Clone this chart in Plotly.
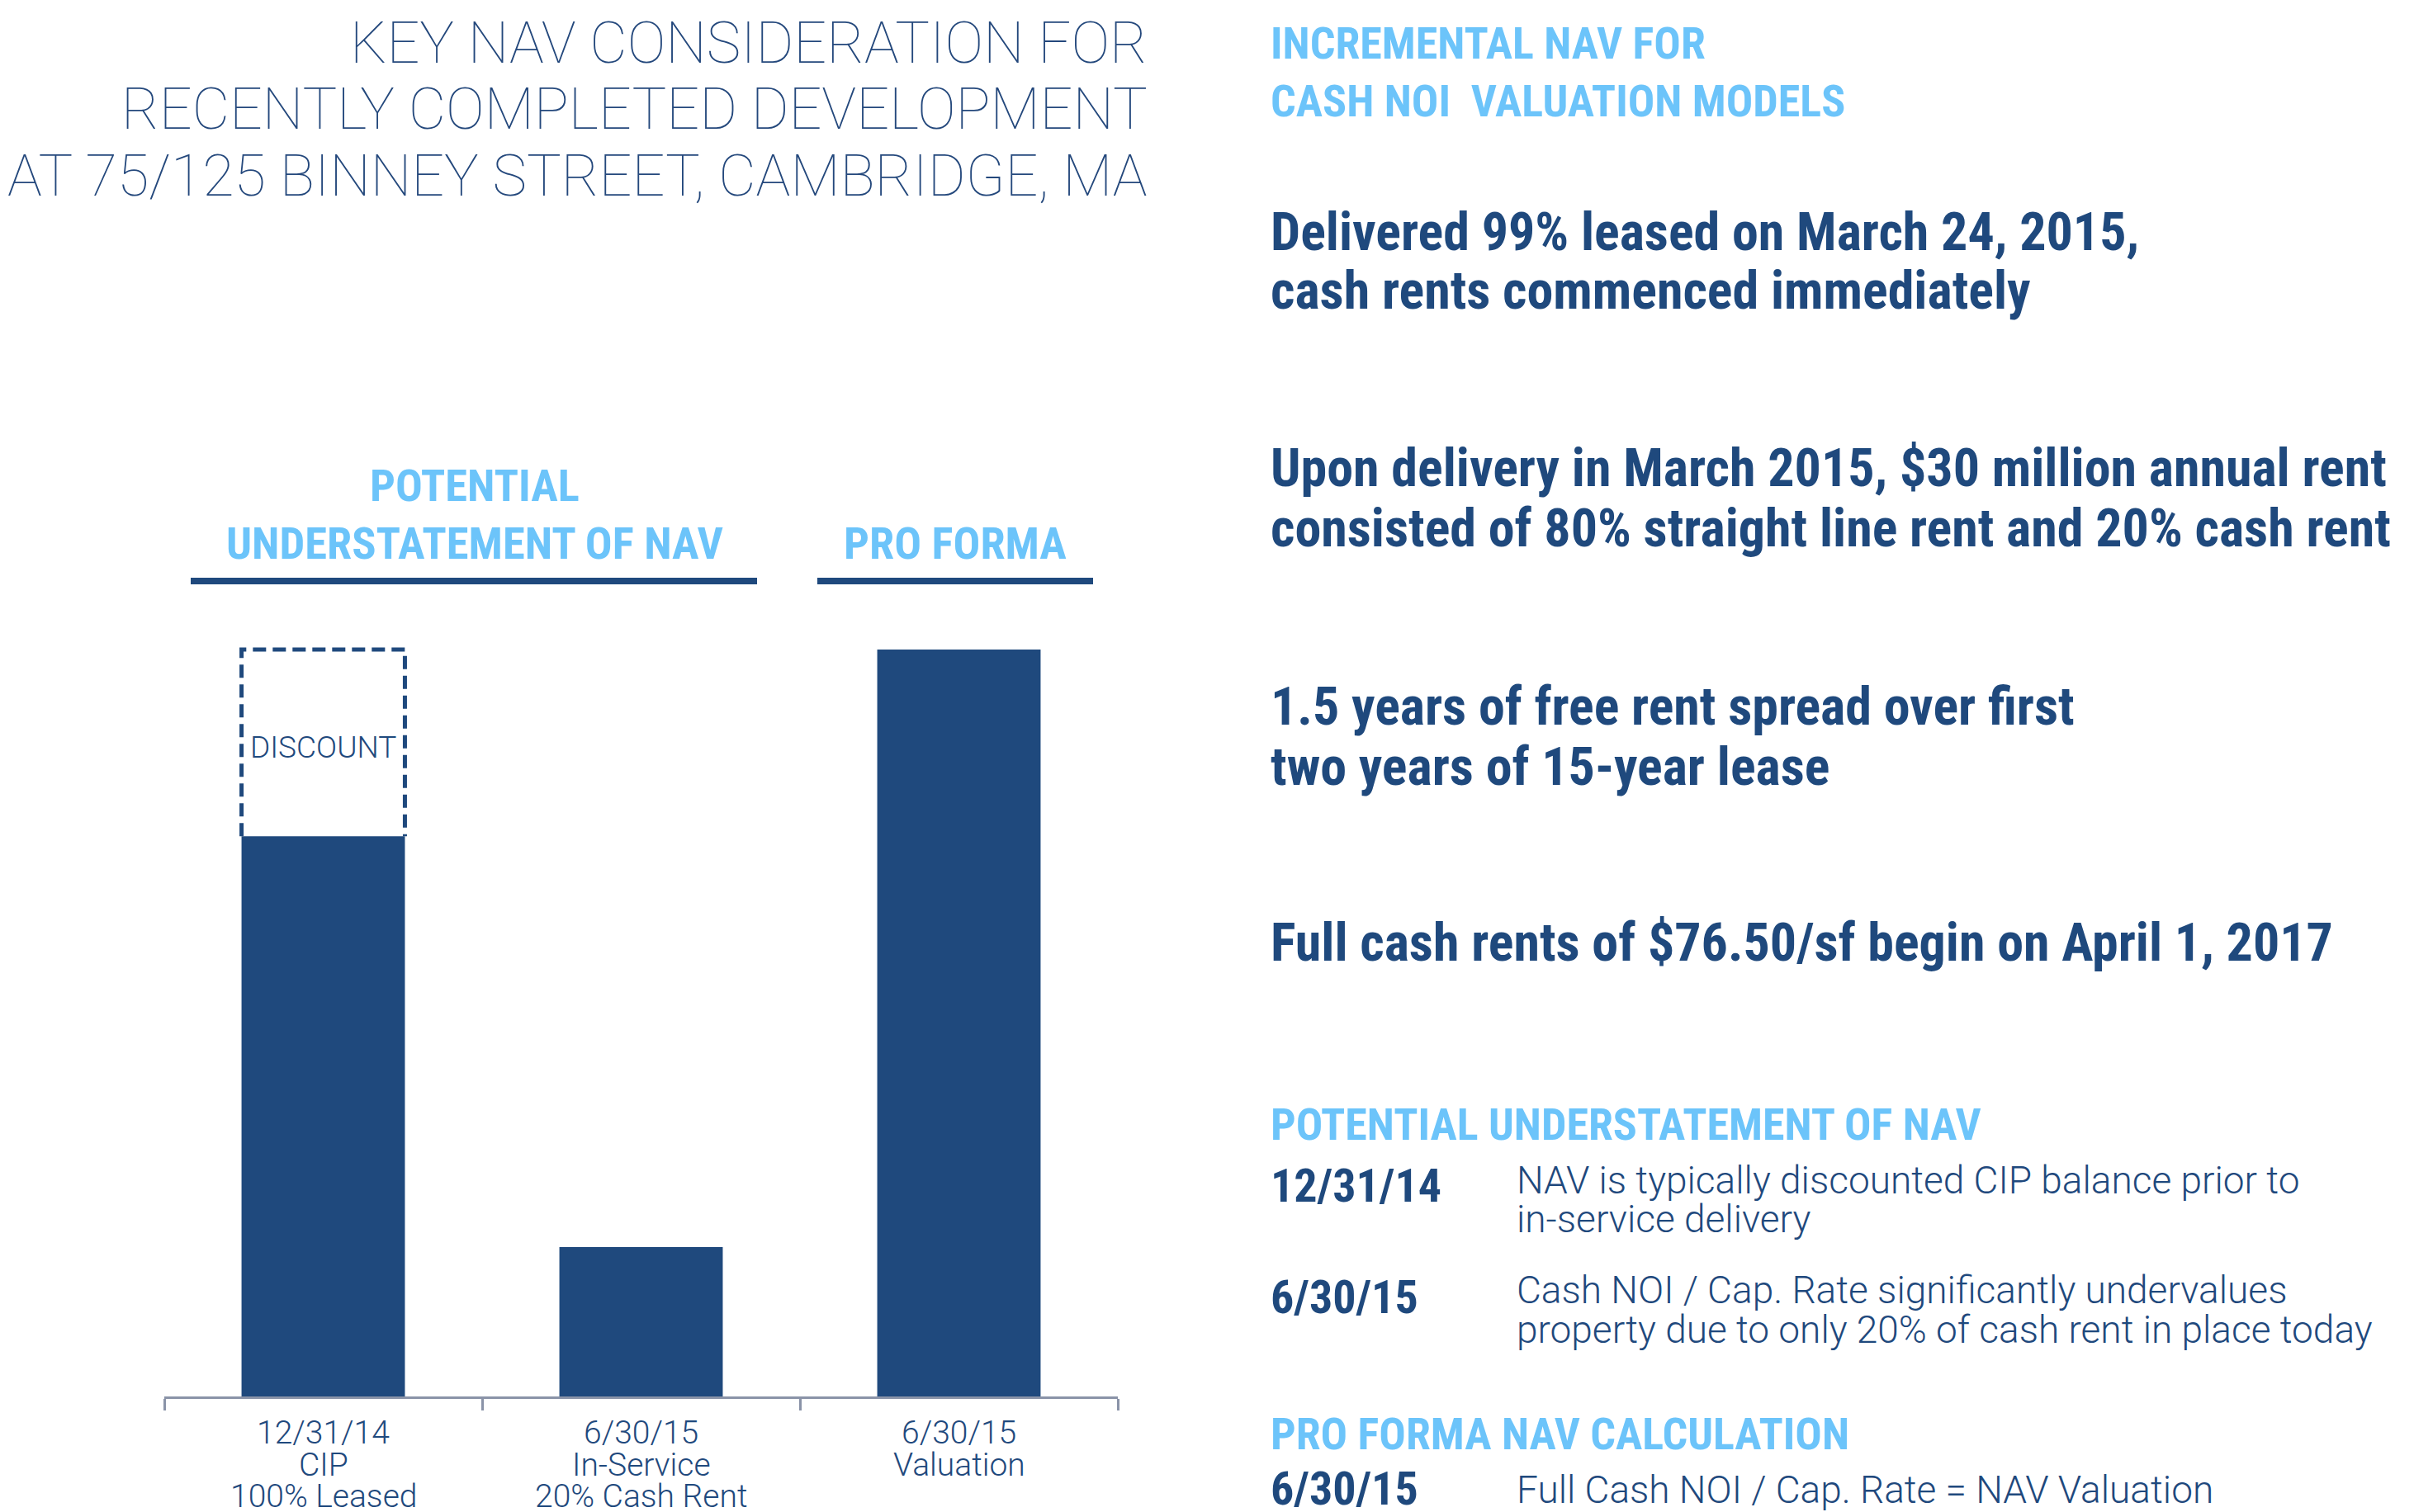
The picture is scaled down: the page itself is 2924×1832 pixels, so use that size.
import plotly.graph_objects as go

W, H = 2924, 1832
OFF = 8  # page body margin

NAVY = "#1F497D"
SKY = "#6CC4FA"
GREY = "#8A93A8"

BOLD = ("Noto Sans Condensed, Roboto Condensed, Open Sans Condensed, "
        "Liberation Sans Narrow, Arial Narrow, Roboto, sans-serif")
LIGHT = "Roboto, Lato, sans-serif"

# chart data (NAV index, pro forma = 100)
bar_keys = ["cip", "in_service", "valuation"]
bar_labels = [["12/31/14", "CIP", "100% Leased"],
              ["6/30/15", "In-Service", "20% Cash Rent"],
              ["6/30/15", "Valuation"]]
nav_values = [75, 20, 100]
discount_values = [25, 0, 0]
bar_width = 0.514

title_lines = ["KEY NAV CONSIDERATION FOR",
               "RECENTLY COMPLETED DEVELOPMENT",
               "AT 75/125 BINNEY STREET, CAMBRIDGE, MA"]
heading_lines = ["INCREMENTAL NAV FOR", "CASH NOI  VALUATION MODELS"]
points = [
    ["Delivered 99% leased on March 24, 2015,", "cash rents commenced immediately"],
    ["Upon delivery in March 2015, $30 million annual rent",
     "consisted of 80% straight line rent and 20% cash rent"],
    ["1.5 years of free rent spread over first", "two years of 15-year lease"],
    ["Full cash rents of $76.50/sf begin on April 1, 2017"],
]
notes_under = [
    ("12/31/14", ["NAV is typically discounted CIP balance prior to", "in-service delivery"]),
    ("6/30/15", ["Cash NOI / Cap. Rate significantly undervalues",
                 "property due to only 20% of cash rent in place today"]),
]
notes_pro = [("6/30/15", ["Full Cash NOI / Cap. Rate = NAV Valuation"])]


def px(x):
    return (x - OFF) / W


def py(y):
    return 1 - (y - OFF) / H


fig = go.Figure()

fig.add_trace(go.Bar(
    x=list(range(len(bar_keys))),
    y=nav_values,
    width=bar_width,
    marker=dict(color=NAVY, line=dict(width=0)),
    hoverinfo="skip",
    showlegend=False,
))

# dashed outline for the discount part of CIP bar
for i, (v, d) in enumerate(zip(nav_values, discount_values)):
    if d <= 0:
        continue
    fig.add_trace(go.Scatter(
        x=[i - bar_width / 2, i - bar_width / 2, i + bar_width / 2, i + bar_width / 2],
        y=[v, v + d, v + d, v],
        mode="lines",
        line=dict(color=NAVY, width=5, dash="16px,8px"),
        hoverinfo="skip",
        showlegend=False,
    ))
    fig.add_annotation(x=i, y=v + d / 2, xref="x", yref="y", text="DISCOUNT",
                       showarrow=False, yshift=-5,
                       font=dict(family=LIGHT, size=37, color=NAVY, weight=300))

# category labels under the axis, one line each
label_y = [1736, 1775, 1813]
for i, lines in enumerate(bar_labels):
    for s, y in zip(lines, label_y):
        fig.add_annotation(x=i, y=py(y), xref="x", yref="paper", text=s,
                           showarrow=False, yanchor="middle",
                           font=dict(family=LIGHT, size=39, color=NAVY, weight=300))

ann = []


def txt(x, y, s, size, color, family, weight="normal", anchor="left"):
    ann.append(dict(x=px(x), y=py(y), xref="paper", yref="paper", text=s,
                    showarrow=False, xanchor=anchor, yanchor="middle",
                    font=dict(family=family, size=size, color=color, weight=weight)))


# title block
for s, y in zip(title_lines, [52, 132, 213]):
    txt(1392, y, s, 70, "#24487C", LIGHT, weight=100, anchor="right")

# right column
for s, y in zip(heading_lines, [52, 122]):
    txt(1537, y, s, 54, SKY, BOLD, weight="bold")

point_y = [[281, 352], [567, 640], [857, 929], [1142]]
for lines, ys in zip(points, point_y):
    for s, y in zip(lines, ys):
        txt(1537, y, s, 64, NAVY, BOLD, weight="bold")

txt(1537, 1362, "POTENTIAL UNDERSTATEMENT OF NAV", 54, SKY, BOLD, weight="bold")
note_y = [(1437, [1430, 1477]), (1572, [1563, 1611])]
for (d, lines), (yd, ys) in zip(notes_under, note_y):
    txt(1537, yd, d, 56, NAVY, BOLD, weight="bold")
    for s, y in zip(lines, ys):
        txt(1835, y, s, 46, NAVY, LIGHT, weight=300)

txt(1537, 1737, "PRO FORMA NAV CALCULATION", 54, SKY, BOLD, weight="bold")
for d, lines in notes_pro:
    txt(1537, 1804, d, 56, NAVY, BOLD, weight="bold")
    txt(1835, 1805, lines[0], 46, NAVY, LIGHT, weight=300)

# chart group headers
txt(575, 588, "POTENTIAL", 54.5, SKY, BOLD, weight="bold", anchor="center")
txt(575, 658, "UNDERSTATEMENT OF NAV", 54.5, SKY, BOLD, weight="bold", anchor="center")
txt(1157, 658, "PRO FORMA", 54.5, SKY, BOLD, weight="bold", anchor="center")

shapes = [
    dict(type="line", xref="paper", yref="paper", x0=px(231), x1=px(917),
         y0=py(704), y1=py(704), line=dict(color=NAVY, width=8)),
    dict(type="line", xref="paper", yref="paper", x0=px(990), x1=px(1324),
         y0=py(704), y1=py(704), line=dict(color=NAVY, width=8)),
]

# plot area: baseline at 1692, value 100 at 787
y_top_val = 105
base_px, hundred_px = 1692, 787
top_px = base_px - (base_px - hundred_px) * y_top_val / 100

fig.update_layout(
    width=W, height=H,
    margin=dict(l=0, r=0, t=0, b=0),
    paper_bgcolor="white", plot_bgcolor="white",
    annotations=fig.layout.annotations + tuple(ann),
    shapes=shapes,
    xaxis=dict(
        domain=[px(199), px(1354)],
        range=[-0.5, len(bar_keys) - 0.5],
        tickmode="array",
        tickvals=[i - 0.5 for i in range(len(bar_keys) + 1)],
        ticktext=[""] * (len(bar_keys) + 1),
        ticks="outside", ticklen=14, tickwidth=3, tickcolor=GREY,
        showline=True, linecolor=GREY, linewidth=3,
        showgrid=False, zeroline=False, fixedrange=True,
    ),
    yaxis=dict(
        domain=[py(base_px), py(top_px)],
        range=[0, y_top_val],
        visible=False, fixedrange=True,
    ),
)

fig.write_html("out.html")
